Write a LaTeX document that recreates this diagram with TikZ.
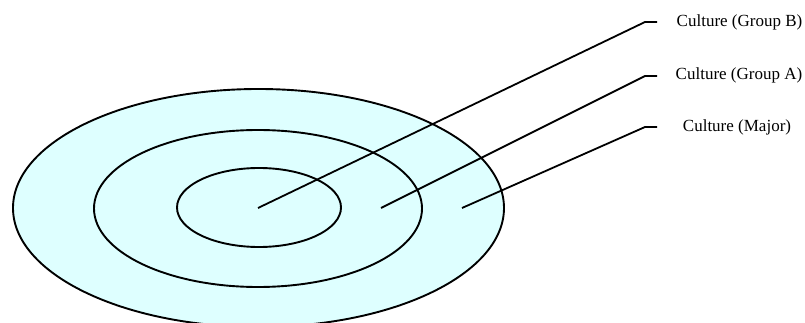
\documentclass[tikz,border=0pt]{standalone}
\usepackage{fontspec}
\setmainfont{Liberation Serif}
\usepackage{tikz}
\usetikzlibrary{positioning,shapes.geometric}
\usepackage{xcolor}
\definecolor{ringfill}{RGB}{222,255,255}

\begin{document}
\begin{tikzpicture}[
    x=1pt, y=-1pt,
    ring/.style={
      ellipse,
      draw=black,
      fill=ringfill,
      line width=1.9pt,
      inner sep=0pt,
      outer sep=0pt
    },
    lead/.style={draw=black, line width=1.8pt, line join=miter},
    lbl/.style={font=\fontsize{17}{20}\selectfont, inner sep=0pt, anchor=center}
  ]
  \useasboundingbox (0,0) rectangle (805,323);

  % rings, largest first
  \node[ring, minimum width=491pt, minimum height=238pt] (major) at (258.5,208) {};
  \node[ring, minimum width=328pt, minimum height=157pt] (grpA) at (258,208.5) {};
  \node[ring, minimum width=164pt, minimum height=79pt] (grpB) at (259,207.5) {};

  % leader lines
  \coordinate (pB) at (258,208);
  \coordinate (pA) at (381,208);
  \coordinate (pM) at (462,208);
  \coordinate (kB) at (645,22);
  \coordinate (kA) at (645,76);
  \coordinate (kM) at (645,127);
  \coordinate (eB) at (657,22);
  \coordinate (eA) at (657,76);
  \coordinate (eM) at (657,127);

  \node[lbl] (labB) at (739.5,22) {Culture (Group B)};
  \node[lbl] (labA) at (739,75.5) {Culture (Group A)};
  \node[lbl] (labM) at (737,127) {Culture (Major)};

  \draw[lead] (pB) -- (kB) -- (eB);
  \draw[lead] (pA) -- (kA) -- (eA);
  \draw[lead] (pM) -- (kM) -- (eM);

\end{tikzpicture}
\end{document}
